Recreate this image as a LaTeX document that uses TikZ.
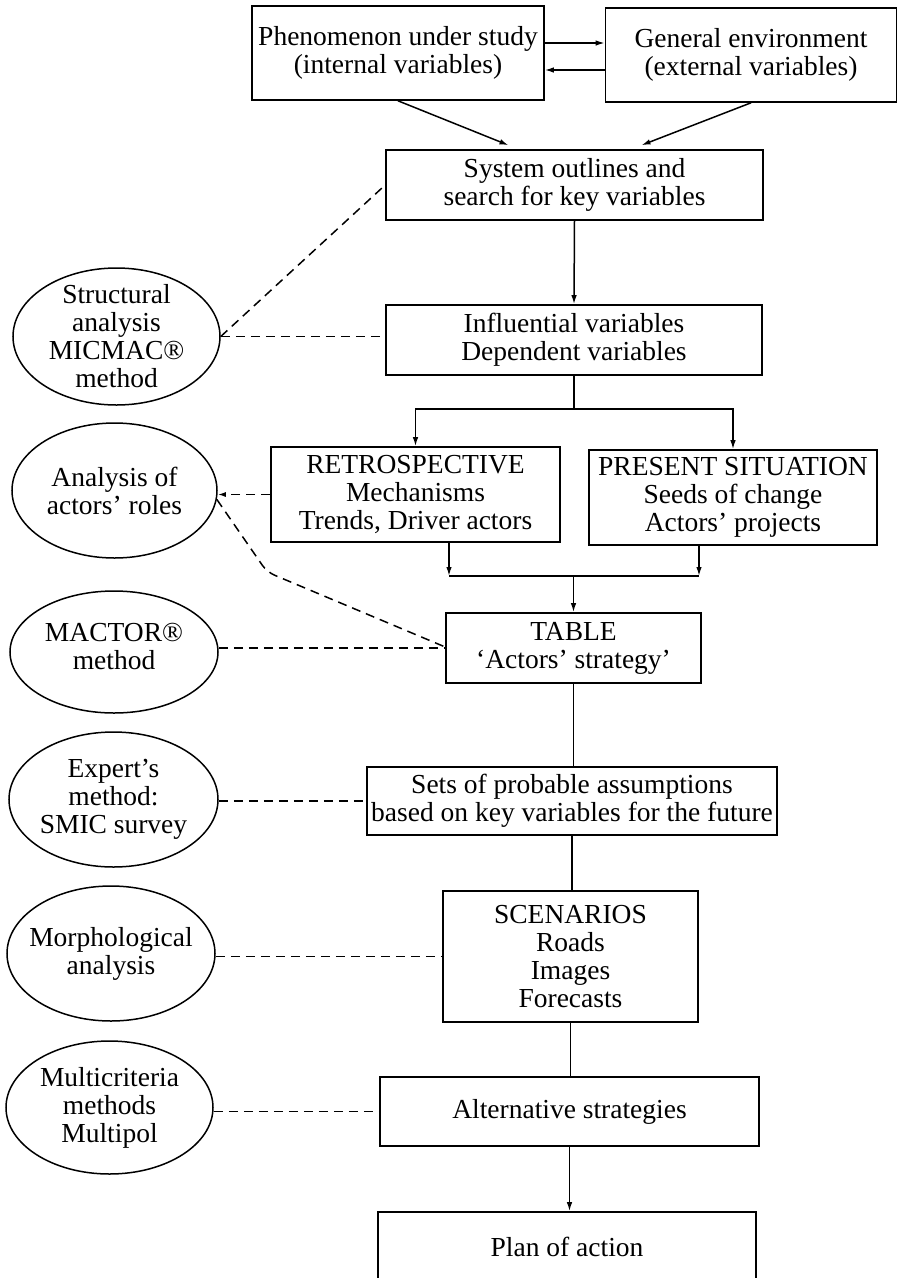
\documentclass[tikz,border=0pt]{standalone}
\usepackage{fontspec}
\setmainfont{Liberation Serif}
\usetikzlibrary{arrows.meta,calc,shapes.geometric}
\begin{document}
\begin{tikzpicture}[x=1pt,y=-1pt,
  every node/.style={font=\fontsize{27.5}{28}\selectfont, align=center, inner sep=0pt},
  box/.style={draw, line width=1.6pt, rectangle},
  meth/.style={draw, line width=1.5pt, ellipse},
  link/.style={line width=1.5pt},
  arr/.style={link, -{Latex[length=9pt,width=5.5pt]}},
  dsh/.style={line width=1.5pt, dash pattern=on 9pt off 6pt},
]
\clip (0,0) rectangle (899,1278);

% main chain of boxes
\node[box, minimum width=292pt, minimum height=94pt] (phen) at (398,53)
  {Phenomenon under study\\(internal variables)};
\node[box, minimum width=291pt, minimum height=94pt] (env) at (751,55)
  {General environment\\(external variables)};
\node[box, minimum width=377pt, minimum height=70pt] (sys) at (574.5,185)
  {System outlines and\\search for key variables};
\node[box, minimum width=376pt, minimum height=70pt] (infl) at (574,340)
  {Influential variables\\Dependent variables};
\node[box, minimum width=289pt, minimum height=95pt] (retro) at (415.5,494.5)
  {RETROSPECTIVE\\Mechanisms\\Trends, Driver actors};
\node[box, minimum width=288pt, minimum height=95pt] (pres) at (733,497.5)
  {PRESENT SITUATION\\Seeds of change\\Actors’ projects};
\node[box, minimum width=255pt, minimum height=70pt] (tab) at (573.5,648)
  {TABLE\\‘Actors’ strategy’};
\node[box, minimum width=410pt, minimum height=68pt] (sets) at (572,801)
  {Sets of probable assumptions\\based on key variables for the future};
\node[box, minimum width=255pt, minimum height=131pt] (scen) at (570.5,956.5)
  {SCENARIOS\\Roads\\Images\\Forecasts};
\node[box, minimum width=379pt, minimum height=69pt] (alt) at (569.5,1111.5)
  {Alternative strategies};
\node[box, minimum width=378pt, minimum height=70pt] (plan) at (567,1247)
  {Plan of action};

% method ellipses and their texts
\node[meth, minimum width=207pt, minimum height=137pt] (s1) at (116.5,336.5) {};
\node (s1t) at (s1) {Structural\\analysis\\MICMAC®\\method};
\node[meth, minimum width=205pt, minimum height=135pt] (an) at (114.5,490.5) {};
\node (ant) at (an) {Analysis of\\actors’ roles};
\node[meth, minimum width=208pt, minimum height=122pt] (mac) at (114,652) {};
\node (mact) at ($(mac)+(0,-6)$) {MACTOR®\\method};
\node[meth, minimum width=209pt, minimum height=135pt] (ex) at (113.5,799.5) {};
\node (ext) at (ex) {Expert’s\\method:\\SMIC survey};
\node[meth, minimum width=208pt, minimum height=135pt] (mo) at (111,953.5) {};
\node (mot) at (mo) {Morphological\\analysis};
\node[meth, minimum width=207pt, minimum height=133pt] (mu) at (109.5,1107.5) {};
\node (mut) at (mu) {Multicriteria\\methods\\Multipol};

% solid connectors
\draw[arr] (phen.east |- 0,43) -- (env.west |- 0,43);
\draw[arr] (env.west |- 0,70) -- (phen.east |- 0,70);
\draw[arr] (phen.south) -- ($(sys.north)+(-66,-4)$);
\draw[arr] (env.south) -- ($(sys.north)+(67,-4)$);
\draw[arr] (sys.south) -- (infl.north);
\coordinate (split) at (574,409);
\draw[link] (infl.south) -- (split);
\draw[arr] (split) -| (retro.north);
\draw[arr] (split) -| (pres.north);
\coordinate (jl) at (449,576);
\coordinate (jr) at (699,576);
\draw[arr] (retro.south -| jl) -- (jl);
\draw[arr] (pres.south -| jr) -- (jr);
\draw[link] (jl) -- (jr);
\draw[arr] (tab.north |- jl) -- (tab.north);
\draw[link] (tab.south) -- (tab.south |- sets.north);
\draw[link] (sets.south) -- (sets.south |- scen.north);
\draw[link] (scen.south) -- (scen.south |- alt.north);
\draw[arr] (alt.south) -- (alt.south |- plan.north);

% dashed links from the methods
\draw[dsh] (s1.east) -- (sys.west);
\draw[dsh] (s1.east) -- (s1.east -| infl.west);
\draw[dsh, -{Latex[length=8pt,width=5pt]}] (retro.west) -- (retro.west -| an.east);
\coordinate (bend) at (267,572);
\draw[dsh, rounded corners=8pt] (an.-5) -- (bend) -- ($(tab.west)+(0,-1)$);
\draw[dsh] (tab.west -| mac.east) -- (tab.west);
\draw[dsh] (sets.west -| ex.east) -- (sets.west);
\draw[dsh] (scen.west -| mo.east) -- (scen.west);
\draw[dsh] (alt.west -| mu.east) -- (alt.west);
\end{tikzpicture}
\end{document}
